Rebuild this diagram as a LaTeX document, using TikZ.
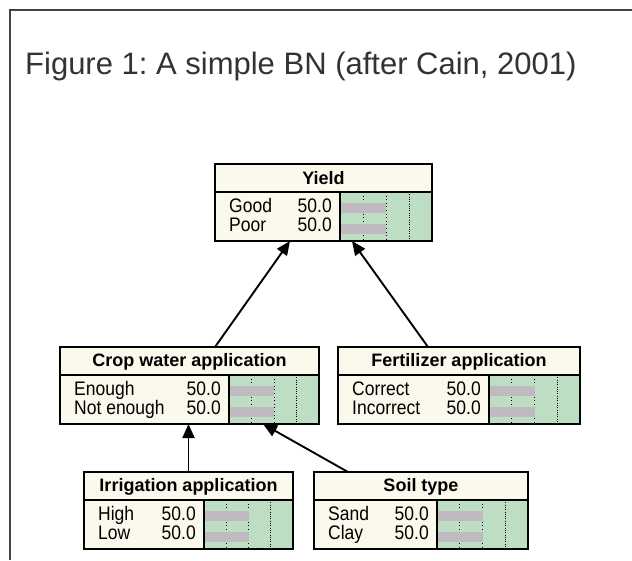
\documentclass[tikz,border=0pt]{standalone}
\usepackage{fontspec}
\setmainfont{Liberation Sans}
\usetikzlibrary{arrows.meta}

\definecolor{cream}{RGB}{251,248,236}
\definecolor{beliefgreen}{RGB}{190,222,196}
\definecolor{bargray}{RGB}{192,186,192}
\definecolor{framegray}{RGB}{68,68,68}
\definecolor{titlegray}{RGB}{51,51,51}

\tikzset{
  bnline/.style={black, line width=2.1pt},
  tick/.style={black, line width=1pt, dash pattern=on 1pt off 2.6pt},
  densetick/.style={black, line width=1pt, dash pattern=on 1pt off 1.3pt},
  headtext/.style={font=\fontsize{18}{21}\selectfont\bfseries, inner sep=0pt},
  statetext/.style={font=\fontsize{17.5}{20}\selectfont, inner sep=0pt},
  titletext/.style={font=\fontsize{31}{37}\selectfont, text=titlegray, inner sep=0pt},
  arr/.style={-{Triangle[length=14pt,width=12pt]}, line width=1.9pt},
}

% state labels are set slightly taller than wide
\newcommand\tallstate[1]{\scalebox{1}[1.12]{#1}}

% Netica-style node: #1 name, #2 left, #3 top, #4 right,
% #5 left edge of the belief-bar area, #6 title, #7 and #8 states
\newcommand\bnbox[8]{%
  \pgfmathsetmacro\bnsep{#3+28}%
  \pgfmathsetmacro\bnbot{#3+77}%
  \pgfmathsetmacro\bnw{#4-#2}%
  \pgfmathsetmacro\bnq{(#4-#5)/4}%
  \fill[cream] (#2,#3) rectangle (#4,\bnbot);
  \fill[beliefgreen] (#5,\bnsep) rectangle (#4,\bnbot);
  \foreach \k in {1,2}{\draw[tick] ({#5+\k*\bnq},\bnsep) -- ({#5+\k*\bnq},\bnbot);}
  \draw[densetick] ({#5+3*\bnq},\bnsep) -- ({#5+3*\bnq},\bnbot);
  \fill[bargray] (#5,{\bnsep+11}) rectangle ({#5+2*\bnq},{\bnsep+21});
  \fill[bargray] (#5,{\bnsep+32}) rectangle ({#5+2*\bnq},{\bnsep+42});
  \node[headtext] at ({(#2+#4)/2},{#3+14.5}) {#6};
  \node[statetext, anchor=base west] at ({#2+14},{\bnsep+20}) {\tallstate{#7}};
  \node[statetext, anchor=base east] at ({#5-8},{\bnsep+20}) {\tallstate{50.0}};
  \node[statetext, anchor=base west] at ({#2+14},{\bnsep+39}) {\tallstate{#8}};
  \node[statetext, anchor=base east] at ({#5-8},{\bnsep+39}) {\tallstate{50.0}};
  \draw[bnline] (#2,\bnsep) -- (#4,\bnsep);
  \draw[bnline] (#5,\bnsep) -- (#5,\bnbot);
  \node[draw, bnline, anchor=north west, minimum width=\bnw pt,
        minimum height=77pt, inner sep=0pt, outer sep=0pt] (#1) at (#2,#3) {};
}

\begin{document}
\frenchspacing
\begin{tikzpicture}[x=1pt, y=-1pt]
  \useasboundingbox (0,0) rectangle (632,560);
  \fill[white] (0,0) rectangle (632,560);

  % frame edges
  \draw[framegray, line width=2.4pt] (10,560) -- (10,10) -- (632,10);

  \node[titletext, anchor=base west] (title) at (25,74)
    {Figure 1: A simple BN (after Cain, 2001)};

  \bnbox{yield}{215}{164}{432}{340}{Yield}{Good}{Poor}
  \bnbox{crop}{60}{347}{319}{229}{Crop water application}{Enough}{Not enough}
  \bnbox{fert}{338}{347}{580}{489}{Fertilizer application}{Correct}{Incorrect}
  \bnbox{irrig}{84}{472}{293}{204}{Irrigation application}{High}{Low}
  \bnbox{soil}{314}{472}{528}{437}{Soil type}{Sand}{Clay}

  \draw[arr] ([xshift=25.5pt]crop.north) -- ([xshift=-33.5pt]yield.south);
  \draw[arr] ([xshift=-31pt]fert.north) -- ([xshift=28.5pt]yield.south);
  \draw[arr] (irrig.north) -- (irrig.north |- crop.south);
  \draw[arr] ([xshift=-73pt]soil.north) -- ([xshift=73.5pt]crop.south);
\end{tikzpicture}
\end{document}
